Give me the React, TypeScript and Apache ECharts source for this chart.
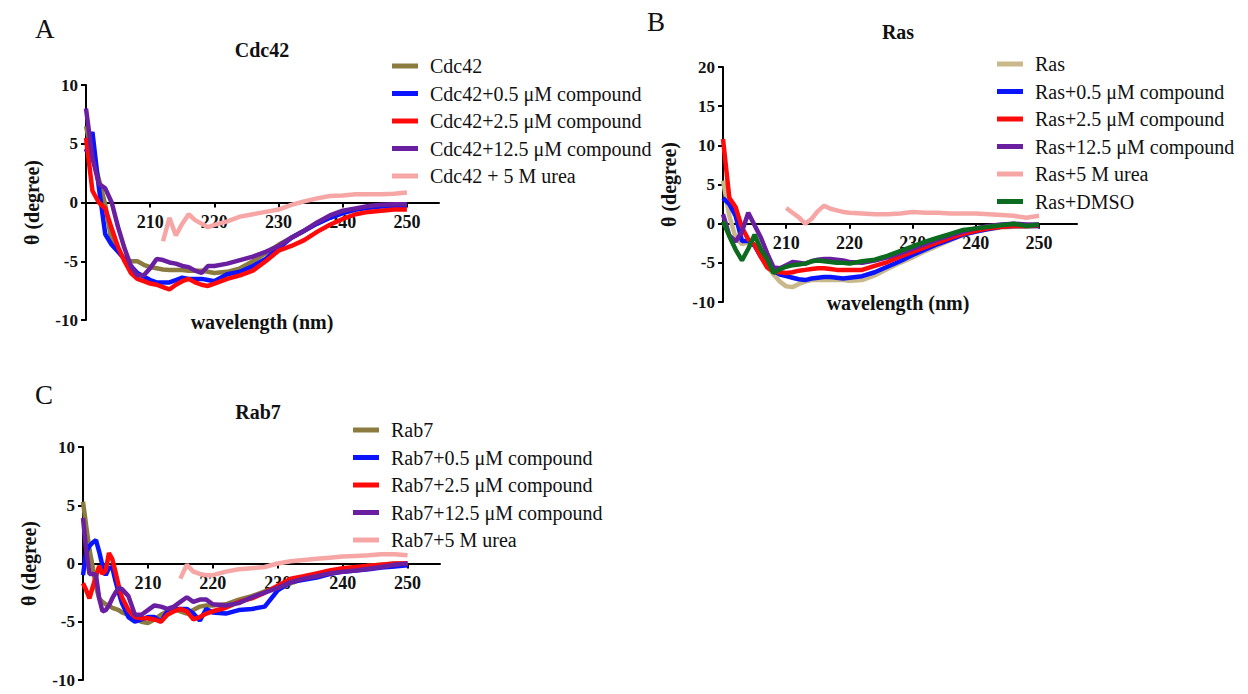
import React, { useEffect, useRef } from 'react';
import * as echarts from 'echarts';

// ---------- Panel A: Cdc42 ----------
const WA = [200, 201, 202, 203, 204, 205, 206, 207, 208, 209, 210, 211, 212, 213, 214, 215, 216, 217, 218, 219, 220,
  222, 224, 226, 228, 230, 232, 234, 236, 238, 240, 242, 244, 246, 248, 250];
const A_CDC42 = [6.5, 4.0, 2.0, -0.2, -3.3, -4.1, -4.8, -5.0, -5.0, -5.3, -5.5, -5.6, -5.7, -5.75, -5.75, -5.75, -5.8, -5.8, -5.8, -5.9, -6.0,
  -5.9, -5.6, -5.0, -4.3, -3.6, -3.0, -2.4, -1.8, -1.3, -0.9, -0.6, -0.4, -0.3, -0.3, -0.3];
const A_C05 = [4.3, 6.0, 1.3, -2.7, -3.6, -4.2, -4.8, -5.4, -6.0, -6.3, -6.6, -6.8, -6.8, -6.8, -6.6, -6.4, -6.5, -6.5, -6.5, -6.6, -6.7,
  -6.1, -5.9, -5.4, -4.8, -3.9, -3.0, -2.4, -1.8, -1.3, -0.9, -0.6, -0.45, -0.35, -0.3, -0.3];
const A_C25 = [5.5, 1.0, 0.0, -0.5, -2.2, -3.8, -5.0, -6.0, -6.5, -6.7, -6.9, -7.0, -7.2, -7.4, -7.0, -6.7, -6.5, -6.8, -7.0, -7.1, -6.9,
  -6.5, -6.2, -5.8, -5.0, -4.1, -3.7, -3.2, -2.5, -1.9, -1.4, -1.0, -0.8, -0.7, -0.6, -0.6];
const A_C125 = [8.0, 3.8, 1.6, 1.2, 0.0, -2.1, -3.9, -5.4, -6.2, -6.2, -5.6, -4.8, -4.9, -5.1, -5.2, -5.4, -5.5, -5.8, -6.0, -5.4, -5.4,
  -5.2, -4.9, -4.6, -4.2, -3.7, -3.0, -2.4, -1.7, -1.1, -0.7, -0.5, -0.3, -0.2, -0.15, -0.15];
const A_UREA = [null, null, null, null, null, null, null, null, null, null, null, null, -3.3, -1.3, -2.8, -1.8, -1.0, -1.5, -1.8, -2.1, -1.9,
  -1.6, -1.2, -1.0, -0.8, -0.6, -0.2, 0.1, 0.35, 0.55, 0.6, 0.7, 0.7, 0.7, 0.75, 0.85];
const A_NAMES = ['Cdc42', 'Cdc42+0.5 μM compound', 'Cdc42+2.5 μM compound', 'Cdc42+12.5 μM compound', 'Cdc42 + 5 M urea'];

// ---------- Panel B: Ras ----------
const WB = WA;
const B_RAS = [5.5, 1.0, -1.8, -2.6, -2.4, -2.8, -4.3, -5.5, -6.5, -7.4, -8.0, -8.1, -7.7, -7.4, -7.2, -7.2, -7.2, -7.2, -7.2, -7.2, -7.3,
  -7.2, -6.6, -5.8, -5.0, -4.3, -3.5, -2.8, -2.1, -1.4, -1.0, -0.7, -0.5, -0.4, -0.4, -0.3];
const B_R05 = [3.25, 2.5, 1.0, -2.2, -2.2, -2.8, -4.2, -5.3, -6.0, -6.5, -6.7, -6.9, -7.1, -7.2, -7.0, -6.9, -6.8, -6.8, -6.9, -7.0, -6.9,
  -6.7, -6.2, -5.5, -4.8, -4.0, -3.3, -2.6, -2.0, -1.4, -1.0, -0.7, -0.4, -0.3, -0.3, -0.3];
const B_R25 = [10.8, 3.3, 2.1, -0.5, -2.0, -2.7, -4.2, -5.6, -6.1, -6.2, -6.3, -6.2, -6.0, -5.9, -5.8, -5.7, -5.7, -5.8, -5.9, -5.9, -5.9,
  -5.9, -5.4, -4.9, -4.2, -3.6, -3.0, -2.4, -1.8, -1.3, -0.9, -0.6, -0.4, -0.3, -0.3, -0.2];
const B_R125 = [1.2, -1.5, -2.3, -1.0, 1.4, -0.2, -1.8, -3.8, -5.6, -5.7, -5.3, -4.9, -5.0, -5.1, -4.8, -4.6, -4.5, -4.5, -4.6, -4.7, -4.9,
  -5.0, -4.7, -4.3, -3.8, -3.2, -2.6, -2.0, -1.5, -1.0, -0.6, -0.3, -0.1, 0.0, -0.1, -0.1];
const B_UREA = [null, null, null, null, null, null, null, null, null, null, 2.0, 1.4, 0.8, 0.0, 0.6, 1.6, 2.3, 1.9, 1.7, 1.5, 1.4,
  1.3, 1.2, 1.2, 1.3, 1.5, 1.4, 1.4, 1.3, 1.3, 1.3, 1.2, 1.1, 1.0, 0.75, 1.0];
const B_DMSO = [0.3, -1.6, -3.3, -4.7, -3.2, -1.4, -3.3, -4.5, -6.3, -5.8, -5.5, -5.3, -5.2, -5.1, -4.8, -4.7, -4.8, -4.9, -5.0, -5.0, -5.1,
  -4.8, -4.6, -4.1, -3.5, -2.9, -2.3, -1.8, -1.3, -0.8, -0.6, -0.4, -0.2, 0.0, -0.3, -0.1];
const B_NAMES = ['Ras', 'Ras+0.5 μM compound', 'Ras+2.5 μM compound', 'Ras+12.5 μM compound', 'Ras+5 M urea', 'Ras+DMSO'];

// ---------- Panel C: Rab7 ----------
const WC = [200, 200.5, 201, 201.5, 202, 202.5, 203, 203.5, 204, 204.5, 205, 205.5, 206,
  207, 208, 209, 210, 211, 212, 213, 214, 215, 216, 217, 218, 219, 220,
  222, 224, 226, 228, 230, 232, 234, 236, 238, 240, 242, 244, 246, 248, 250];
const C_RAB7 = [5.3, 3.2, 1.2, -0.3, -2.0, -3.0, -3.3, -3.5, -3.6, -3.8, -3.9, -4.0, -4.2,
  -4.4, -4.8, -5.0, -5.1, -4.8, -4.4, -4.1, -3.9, -4.1, -4.3, -4.0, -3.7, -3.6, -3.6,
  -3.5, -3.1, -2.8, -2.4, -2.0, -1.7, -1.3, -1.0, -0.8, -0.6, -0.4, -0.2, -0.1, 0.0, 0.0];
const C_R05 = [-1.0, 1.0, 1.5, 1.8, 2.0, 1.0, -0.2, -1.0, -0.4, -0.3, -1.5, -2.5, -3.4,
  -4.6, -5.0, -4.8, -4.6, -4.6, -5.0, -4.1, -3.9, -3.9, -3.9, -4.3, -4.9, -3.9, -4.2,
  -4.3, -4.0, -3.9, -3.7, -2.3, -1.6, -1.4, -1.2, -0.9, -0.7, -0.6, -0.5, -0.35, -0.25, -0.15];
const C_R25 = [-1.7, -2.3, -3.0, -2.0, -1.1, -0.2, -0.9, -0.6, 0.9, 0.4, -0.7, -1.9, -2.9,
  -4.0, -4.6, -4.7, -4.7, -4.8, -5.0, -4.4, -4.1, -3.9, -4.1, -4.8, -4.6, -4.3, -4.1,
  -3.8, -3.3, -3.0, -2.5, -1.9, -1.3, -1.1, -0.85, -0.6, -0.4, -0.3, -0.2, -0.1, 0.0, 0.0];
const C_R125 = [3.9, 1.1, -0.9, -0.9, -1.0, -3.0, -4.1, -4.0, -3.6, -3.0, -2.5, -2.1, -2.2,
  -2.8, -4.4, -4.4, -4.0, -3.6, -3.7, -3.9, -3.7, -3.3, -2.9, -3.3, -3.1, -3.1, -3.5,
  -3.6, -3.4, -2.9, -2.5, -2.1, -1.6, -1.3, -1.1, -0.85, -0.7, -0.6, -0.45, -0.3, -0.1, 0.0];
const C_UREA = [null, null, null, null, null, null, null, null, null, null, null, null, null,
  null, null, null, null, null, null, null, null, -1.3, -0.1, -0.7, -0.9, -1.0, -1.0,
  -0.7, -0.5, -0.4, -0.3, 0.0, 0.2, 0.3, 0.4, 0.5, 0.6, 0.65, 0.7, 0.8, 0.8, 0.7];
const C_NAMES = ['Rab7', 'Rab7+0.5 μM compound', 'Rab7+2.5 μM compound', 'Rab7+12.5 μM compound', 'Rab7+5 M urea'];

const X_TICKS = [210, 220, 230, 240, 250];
const Y_TICKS_A = [-10, -5, 0, 5, 10];
const Y_TICKS_B = [-10, -5, 0, 5, 10, 15, 20];

const OLIVE = '#8B7B3E';
const TAN = '#C8B88A';
const BLUE = '#0A14FF';
const RED = '#FF0A0A';
const PURPLE = '#6A1FA0';
const PINK = '#F7A6A6';
const GREEN = '#0B6B1E';

const SERIF = '"Liberation Serif", "Times New Roman", serif';

function pairs(w: number[], v: (number | null)[]) {
  return w.map((x, i) => [x, v[i] === null ? '-' : v[i]]);
}

// offset moves the bottom axis up onto the y = 0 line
function xAxisCfg(grid: number, max: number, offset: number) {
  return {
    type: 'value', gridIndex: grid, min: 200, max, position: 'bottom', offset,
    axisLine: { onZero: false, lineStyle: { color: '#000', width: 2 } },
    axisTick: { customValues: X_TICKS, length: 5, lineStyle: { color: '#000', width: 2 } },
    axisLabel: { customValues: X_TICKS, margin: 10, color: '#111', fontFamily: SERIF, fontWeight: 'bold', fontSize: 18 },
    splitLine: { show: false },
  };
}

function yAxisCfg(grid: number, min: number, max: number, ticks: number[]) {
  return {
    type: 'value', gridIndex: grid, min, max, interval: 5,
    name: 'θ (degree)', nameLocation: 'middle', nameGap: 44, nameRotate: 90,
    nameTextStyle: { fontFamily: SERIF, fontWeight: 'bold', fontSize: 20, color: '#111' },
    axisLine: { show: true, lineStyle: { color: '#000', width: 2 } },
    axisTick: { show: true, customValues: ticks, length: 5, lineStyle: { color: '#000', width: 2 } },
    axisLabel: { customValues: ticks, margin: 8, color: '#111', fontFamily: SERIF, fontWeight: 'bold', fontSize: 17 },
    splitLine: { show: false },
  };
}

function line(name: string, color: string, w: number[], v: (number | null)[], idx: number) {
  return {
    type: 'line', name, xAxisIndex: idx, yAxisIndex: idx,
    data: pairs(w, v), showSymbol: false, symbol: 'none',
    lineStyle: { color, width: 4.5 }, itemStyle: { color },
    connectNulls: false,
  };
}

function legendCfg(names: string[], left: number, top: number) {
  return {
    data: names, orient: 'vertical', left, top, padding: 0, itemWidth: 26, itemHeight: 5,
    icon: 'rect', itemGap: 7.5, selectedMode: false,
    textStyle: { fontFamily: SERIF, fontSize: 20, color: '#111', lineHeight: 20, padding: [0, 0, 0, 7] },
  };
}

function label(text: string, x: number, y: number, size: number, bold: boolean, align = 'center') {
  return {
    type: 'text', x, y,
    style: {
      text, fill: '#111', align, verticalAlign: 'middle',
      font: `${bold ? 'bold ' : ''}${size}px ${SERIF}`,
    },
  };
}

export default function App() {
  const ref = useRef<HTMLDivElement>(null);
  useEffect(() => {
    if (!ref.current) return;
    const chart = echarts.init(ref.current, null, { renderer: 'svg' });
    chart.setOption({
      animation: false,
      backgroundColor: '#fff',
      grid: [
        { left: 86, top: 85, width: 353, height: 235 },
        { left: 723, top: 67, width: 354, height: 235 },
        { left: 83, top: 447, width: 357, height: 233 },
      ],
      xAxis: [xAxisCfg(0, 255, -117.5), xAxisCfg(1, 256, -78.3), xAxisCfg(2, 255, -116.5)],
      yAxis: [yAxisCfg(0, -10, 10, Y_TICKS_A), yAxisCfg(1, -10, 20, Y_TICKS_B), yAxisCfg(2, -10, 10, Y_TICKS_A)],
      legend: [
        legendCfg(A_NAMES, 392, 56),
        legendCfg(B_NAMES, 997, 54),
        legendCfg(C_NAMES, 353, 420),
      ],
      series: [
        line(A_NAMES[0], OLIVE, WA, A_CDC42, 0),
        line(A_NAMES[1], BLUE, WA, A_C05, 0),
        line(A_NAMES[2], RED, WA, A_C25, 0),
        line(A_NAMES[3], PURPLE, WA, A_C125, 0),
        line(A_NAMES[4], PINK, WA, A_UREA, 0),
        line(B_NAMES[0], TAN, WB, B_RAS, 1),
        line(B_NAMES[1], BLUE, WB, B_R05, 1),
        line(B_NAMES[2], RED, WB, B_R25, 1),
        line(B_NAMES[3], PURPLE, WB, B_R125, 1),
        line(B_NAMES[4], PINK, WB, B_UREA, 1),
        line(B_NAMES[5], GREEN, WB, B_DMSO, 1),
        line(C_NAMES[0], OLIVE, WC, C_RAB7, 2),
        line(C_NAMES[1], BLUE, WC, C_R05, 2),
        line(C_NAMES[2], RED, WC, C_R25, 2),
        line(C_NAMES[3], PURPLE, WC, C_R125, 2),
        line(C_NAMES[4], PINK, WC, C_UREA, 2),
      ],
      graphic: [
        label('A', 35, 29, 27, false, 'left'),
        label('B', 647, 22, 27, false, 'left'),
        label('C', 35, 395, 27, false, 'left'),
        label('Cdc42', 262, 50, 20, true),
        label('Ras', 898, 32, 20, true),
        label('Rab7', 258, 412, 20, true),
        label('wavelength (nm)', 262, 322, 20, true),
        label('wavelength (nm)', 898, 303, 20, true),
      ],
    });
    return () => chart.dispose();
  }, []);
  return <div ref={ref} style={{ position: 'fixed', left: 0, top: 0, width: 1248, height: 694 }} />;
}
